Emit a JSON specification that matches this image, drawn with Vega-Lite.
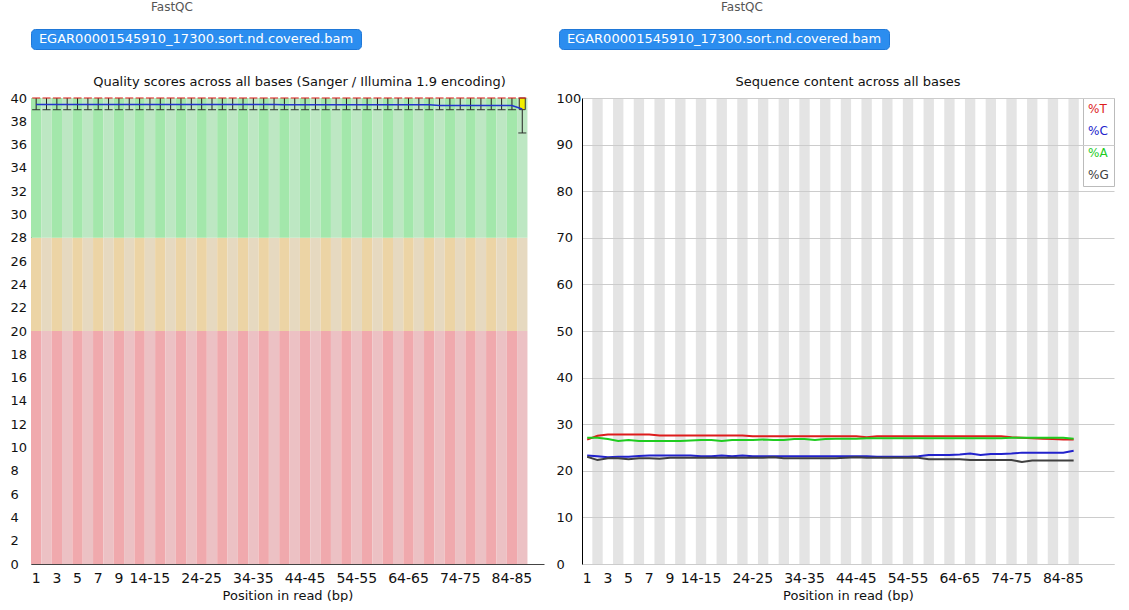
{
  "$schema": "https://vega.github.io/schema/vega-lite/v6.json",
  "background": "white",
  "padding": {"left": 10, "top": 0, "right": 0, "bottom": 0},
  "config": {
    "font": "DejaVu Sans",
    "view": {"stroke": null},
    "axis": {"labelFont": "DejaVu Sans", "titleFont": "DejaVu Sans", "labelColor": "#111111", "titleColor": "#111111", "labelFontSize": 13, "titleFontSize": 13, "titleFontWeight": "normal", "ticks": false, "grid": false, "labelOverlap": false},
    "axisX": {"labelFontSize": 14},
    "title": {"font": "DejaVu Sans", "fontSize": 13, "fontWeight": "normal", "color": "#111111"}
  },
  "datasets": {
    "quality": [
      {"pos":"1","mean":39.45,"median":40,"q1":40,"q3":40,"p10":39,"p90":40},
      {"pos":"2","mean":39.45,"median":40,"q1":40,"q3":40,"p10":39,"p90":40},
      {"pos":"3","mean":39.45,"median":40,"q1":40,"q3":40,"p10":39,"p90":40},
      {"pos":"4","mean":39.45,"median":40,"q1":40,"q3":40,"p10":39,"p90":40},
      {"pos":"5","mean":39.45,"median":40,"q1":40,"q3":40,"p10":39,"p90":40},
      {"pos":"6","mean":39.45,"median":40,"q1":40,"q3":40,"p10":39,"p90":40},
      {"pos":"7","mean":39.45,"median":40,"q1":40,"q3":40,"p10":39,"p90":40},
      {"pos":"8","mean":39.45,"median":40,"q1":40,"q3":40,"p10":39,"p90":40},
      {"pos":"9","mean":39.45,"median":40,"q1":40,"q3":40,"p10":39,"p90":40},
      {"pos":"10-11","mean":39.45,"median":40,"q1":40,"q3":40,"p10":39,"p90":40},
      {"pos":"12-13","mean":39.45,"median":40,"q1":40,"q3":40,"p10":39,"p90":40},
      {"pos":"14-15","mean":39.45,"median":40,"q1":40,"q3":40,"p10":39,"p90":40},
      {"pos":"16-17","mean":39.45,"median":40,"q1":40,"q3":40,"p10":39,"p90":40},
      {"pos":"18-19","mean":39.45,"median":40,"q1":40,"q3":40,"p10":39,"p90":40},
      {"pos":"20-21","mean":39.45,"median":40,"q1":40,"q3":40,"p10":39,"p90":40},
      {"pos":"22-23","mean":39.45,"median":40,"q1":40,"q3":40,"p10":39,"p90":40},
      {"pos":"24-25","mean":39.45,"median":40,"q1":40,"q3":40,"p10":39,"p90":40},
      {"pos":"26-27","mean":39.45,"median":40,"q1":40,"q3":40,"p10":39,"p90":40},
      {"pos":"28-29","mean":39.45,"median":40,"q1":40,"q3":40,"p10":39,"p90":40},
      {"pos":"30-31","mean":39.45,"median":40,"q1":40,"q3":40,"p10":39,"p90":40},
      {"pos":"32-33","mean":39.45,"median":40,"q1":40,"q3":40,"p10":39,"p90":40},
      {"pos":"34-35","mean":39.45,"median":40,"q1":40,"q3":40,"p10":39,"p90":40},
      {"pos":"36-37","mean":39.45,"median":40,"q1":40,"q3":40,"p10":39,"p90":40},
      {"pos":"38-39","mean":39.45,"median":40,"q1":40,"q3":40,"p10":39,"p90":40},
      {"pos":"40-41","mean":39.42,"median":40,"q1":40,"q3":40,"p10":39,"p90":40},
      {"pos":"42-43","mean":39.42,"median":40,"q1":40,"q3":40,"p10":39,"p90":40},
      {"pos":"44-45","mean":39.42,"median":40,"q1":40,"q3":40,"p10":39,"p90":40},
      {"pos":"46-47","mean":39.42,"median":40,"q1":40,"q3":40,"p10":39,"p90":40},
      {"pos":"48-49","mean":39.42,"median":40,"q1":40,"q3":40,"p10":39,"p90":40},
      {"pos":"50-51","mean":39.42,"median":40,"q1":40,"q3":40,"p10":39,"p90":40},
      {"pos":"52-53","mean":39.42,"median":40,"q1":40,"q3":40,"p10":39,"p90":40},
      {"pos":"54-55","mean":39.42,"median":40,"q1":40,"q3":40,"p10":39,"p90":40},
      {"pos":"56-57","mean":39.42,"median":40,"q1":40,"q3":40,"p10":39,"p90":40},
      {"pos":"58-59","mean":39.42,"median":40,"q1":40,"q3":40,"p10":39,"p90":40},
      {"pos":"60-61","mean":39.42,"median":40,"q1":40,"q3":40,"p10":39,"p90":40},
      {"pos":"62-63","mean":39.42,"median":40,"q1":40,"q3":40,"p10":39,"p90":40},
      {"pos":"64-65","mean":39.42,"median":40,"q1":40,"q3":40,"p10":39,"p90":40},
      {"pos":"66-67","mean":39.42,"median":40,"q1":40,"q3":40,"p10":39,"p90":40},
      {"pos":"68-69","mean":39.42,"median":40,"q1":40,"q3":40,"p10":39,"p90":40},
      {"pos":"70-71","mean":39.36,"median":40,"q1":40,"q3":40,"p10":39,"p90":40},
      {"pos":"72-73","mean":39.36,"median":40,"q1":40,"q3":40,"p10":39,"p90":40},
      {"pos":"74-75","mean":39.36,"median":40,"q1":40,"q3":40,"p10":39,"p90":40},
      {"pos":"76-77","mean":39.36,"median":40,"q1":40,"q3":40,"p10":39,"p90":40},
      {"pos":"78-79","mean":39.36,"median":40,"q1":40,"q3":40,"p10":39,"p90":40},
      {"pos":"80-81","mean":39.36,"median":40,"q1":40,"q3":40,"p10":39,"p90":40},
      {"pos":"82-83","mean":39.36,"median":40,"q1":40,"q3":40,"p10":39,"p90":40},
      {"pos":"84-85","mean":39.36,"median":40,"q1":40,"q3":40,"p10":39,"p90":40},
      {"pos":"86-87","mean":39.05,"median":40,"q1":39,"q3":40,"p10":37,"p90":40}
    ],
    "content": [
      {"pos":"1","%T":26.7,"%C":23.3,"%A":27.1,"%G":23.0},
      {"pos":"2","%T":27.5,"%C":23.1,"%A":27.1,"%G":22.3},
      {"pos":"3","%T":27.8,"%C":22.9,"%A":26.8,"%G":22.7},
      {"pos":"4","%T":27.8,"%C":23.0,"%A":26.4,"%G":22.7},
      {"pos":"5","%T":27.8,"%C":23.0,"%A":26.6,"%G":22.5},
      {"pos":"6","%T":27.8,"%C":23.2,"%A":26.4,"%G":22.7},
      {"pos":"7","%T":27.8,"%C":23.3,"%A":26.4,"%G":22.7},
      {"pos":"8","%T":27.6,"%C":23.3,"%A":26.4,"%G":22.6},
      {"pos":"9","%T":27.6,"%C":23.3,"%A":26.4,"%G":22.8},
      {"pos":"10-11","%T":27.6,"%C":23.3,"%A":26.4,"%G":22.8},
      {"pos":"12-13","%T":27.6,"%C":23.3,"%A":26.5,"%G":22.8},
      {"pos":"14-15","%T":27.6,"%C":23.1,"%A":26.6,"%G":22.8},
      {"pos":"16-17","%T":27.6,"%C":23.1,"%A":26.6,"%G":22.8},
      {"pos":"18-19","%T":27.6,"%C":23.3,"%A":26.4,"%G":22.8},
      {"pos":"20-21","%T":27.6,"%C":23.1,"%A":26.6,"%G":22.8},
      {"pos":"22-23","%T":27.6,"%C":23.3,"%A":26.6,"%G":22.8},
      {"pos":"24-25","%T":27.4,"%C":23.1,"%A":26.6,"%G":22.8},
      {"pos":"26-27","%T":27.4,"%C":23.1,"%A":26.7,"%G":22.8},
      {"pos":"28-29","%T":27.4,"%C":23.1,"%A":26.6,"%G":22.9},
      {"pos":"30-31","%T":27.4,"%C":23.1,"%A":26.6,"%G":22.7},
      {"pos":"32-33","%T":27.4,"%C":23.1,"%A":26.8,"%G":22.7},
      {"pos":"34-35","%T":27.4,"%C":23.1,"%A":26.8,"%G":22.7},
      {"pos":"36-37","%T":27.4,"%C":23.1,"%A":26.6,"%G":22.7},
      {"pos":"38-39","%T":27.4,"%C":23.1,"%A":26.8,"%G":22.7},
      {"pos":"40-41","%T":27.4,"%C":23.1,"%A":26.9,"%G":22.7},
      {"pos":"42-43","%T":27.4,"%C":23.1,"%A":26.9,"%G":22.8},
      {"pos":"44-45","%T":27.4,"%C":23.1,"%A":26.9,"%G":22.9},
      {"pos":"46-47","%T":27.2,"%C":23.1,"%A":27.0,"%G":22.8},
      {"pos":"48-49","%T":27.4,"%C":23.0,"%A":27.0,"%G":22.8},
      {"pos":"50-51","%T":27.4,"%C":23.0,"%A":27.0,"%G":22.8},
      {"pos":"52-53","%T":27.4,"%C":23.0,"%A":27.0,"%G":22.8},
      {"pos":"54-55","%T":27.4,"%C":23.0,"%A":27.0,"%G":22.8},
      {"pos":"56-57","%T":27.4,"%C":23.1,"%A":27.0,"%G":22.8},
      {"pos":"58-59","%T":27.4,"%C":23.4,"%A":27.0,"%G":22.5},
      {"pos":"60-61","%T":27.4,"%C":23.4,"%A":27.0,"%G":22.5},
      {"pos":"62-63","%T":27.4,"%C":23.4,"%A":27.0,"%G":22.5},
      {"pos":"64-65","%T":27.4,"%C":23.5,"%A":27.0,"%G":22.5},
      {"pos":"66-67","%T":27.4,"%C":23.7,"%A":27.0,"%G":22.3},
      {"pos":"68-69","%T":27.4,"%C":23.4,"%A":27.0,"%G":22.3},
      {"pos":"70-71","%T":27.4,"%C":23.6,"%A":27.0,"%G":22.3},
      {"pos":"72-73","%T":27.4,"%C":23.6,"%A":27.0,"%G":22.3},
      {"pos":"74-75","%T":27.2,"%C":23.7,"%A":27.1,"%G":22.3},
      {"pos":"76-77","%T":27.1,"%C":23.9,"%A":27.1,"%G":21.9},
      {"pos":"78-79","%T":27.0,"%C":23.9,"%A":27.1,"%G":22.2},
      {"pos":"80-81","%T":26.9,"%C":23.9,"%A":27.1,"%G":22.2},
      {"pos":"82-83","%T":26.8,"%C":23.9,"%A":27.1,"%G":22.2},
      {"pos":"84-85","%T":26.7,"%C":23.9,"%A":27.1,"%G":22.2},
      {"pos":"86-87","%T":26.7,"%C":24.3,"%A":26.9,"%G":22.2}
    ]
  },
  "resolve": {"scale": {"color": "independent", "x": "independent", "y": "independent"}, "legend": {"color": "independent"}},
  "spacing": 26,
  "vconcat": [
    {
      "spacing": 196,
      "hconcat": [
        {
          "width": 330, "height": 20,
          "title": {"text": "FastQC", "anchor": "start", "dx": 120, "fontSize": 12, "color": "#555555", "offset": 15},
          "view": {"fill": "#2b8def", "stroke": "#1f78d8", "cornerRadius": 4},
          "data": {"values": [{"file": "EGAR00001545910_17300.sort.nd.covered.bam"}]},
          "mark": {"type": "text", "color": "white", "fontSize": 13},
          "encoding": {"text": {"field": "file"}}
        },
        {
          "width": 330, "height": 20,
          "title": {"text": "FastQC", "anchor": "start", "dx": 162, "fontSize": 12, "color": "#555555", "offset": 15},
          "view": {"fill": "#2b8def", "stroke": "#1f78d8", "cornerRadius": 4},
          "data": {"values": [{"file": "EGAR00001545910_17300.sort.nd.covered.bam"}]},
          "mark": {"type": "text", "color": "white", "fontSize": 13},
          "encoding": {"text": {"field": "file"}}
        }
      ]
    },
    {
      "spacing": 12,
      "resolve": {"scale": {"color": "independent", "x": "independent", "y": "independent"}, "legend": {"color": "independent"}},
      "hconcat": [
        {
          "width": 513, "height": 466,
          "data": {"name": "quality"},
          "title": {"text": "Quality scores across all bases (Sanger / Illumina 1.9 encoding)", "offset": 3, "dx": 12},
          "encoding": {
            "x": {
              "field": "pos", "type": "ordinal", "sort": null,
              "scale": {"domain": ["1","2","3","4","5","6","7","8","9","10-11","12-13","14-15","16-17","18-19","20-21","22-23","24-25","26-27","28-29","30-31","32-33","34-35","36-37","38-39","40-41","42-43","44-45","46-47","48-49","50-51","52-53","54-55","56-57","58-59","60-61","62-63","64-65","66-67","68-69","70-71","72-73","74-75","76-77","78-79","80-81","82-83","84-85","86-87"], "paddingInner": 0, "paddingOuter": 0.8, "align": 0},
              "axis": {"values": ["1","3","5","7","9","14-15","24-25","34-35","44-45","54-55","64-65","74-75","84-85"], "labelAngle": 0, "title": "Position in read (bp)", "domainColor": "#444444", "labelPadding": 7, "titlePadding": 4}
            }
          },
          "layer": [
            {
              "transform": [{"window": [{"op": "row_number", "as": "rn"}]}],
              "mark": {"type": "rect"},
              "encoding": {
                "y": {"datum": 0, "type": "quantitative", "title": null},
                "y2": {"datum": 20},
                "fill": {"condition": {"test": "datum.rn % 2 == 1", "value": "#f0a9ad"}, "value": "#ecc1c4"}
              }
            },
            {
              "transform": [{"window": [{"op": "row_number", "as": "rn"}]}],
              "mark": {"type": "rect"},
              "encoding": {
                "y": {"datum": 20, "type": "quantitative", "title": null},
                "y2": {"datum": 28},
                "fill": {"condition": {"test": "datum.rn % 2 == 1", "value": "#ecd4a5"}, "value": "#e6d9c0"}
              }
            },
            {
              "transform": [{"window": [{"op": "row_number", "as": "rn"}]}],
              "mark": {"type": "rect"},
              "encoding": {
                "y": {"datum": 28, "type": "quantitative", "title": null},
                "y2": {"datum": 40},
                "fill": {"condition": {"test": "datum.rn % 2 == 1", "value": "#a3e7ab"}, "value": "#bde7c3"}
              }
            },
            {
              "mark": {"type": "rule", "color": "#222222", "strokeWidth": 1},
              "encoding": {"y": {"field": "p10", "type": "quantitative", "title": null}, "y2": {"field": "p90"}}
            },
            {
              "mark": {"type": "tick", "color": "#222222", "size": 8, "thickness": 1.3},
              "encoding": {"y": {"field": "p10", "type": "quantitative", "title": null}}
            },
            {
              "transform": [{"filter": "datum.q1 < datum.q3"}],
              "mark": {"type": "bar", "color": "#f2ee00", "stroke": "#333333", "strokeWidth": 1, "width": 6},
              "encoding": {"y": {"field": "q1", "type": "quantitative", "title": null}, "y2": {"field": "q3"}}
            },
            {
              "mark": {"type": "tick", "color": "#e02020", "size": 8, "thickness": 1.5},
              "encoding": {"y": {"field": "median", "type": "quantitative", "title": null}}
            },
            {
              "mark": {"type": "line", "color": "#2233cc", "strokeWidth": 1.5},
              "encoding": {"y": {"field": "mean", "type": "quantitative", "scale": {"domain": [0, 40], "nice": false, "zero": true}, "axis": {"values": [0,2,4,6,8,10,12,14,16,18,20,22,24,26,28,30,32,34,36,38,40], "tickCount": 25, "title": null, "domainColor": "#555555", "labelAlign": "left", "labelPadding": 21, "labelBound": false, "labelOverlap": false}}}
            }
          ]
        },
        {
          "width": 532, "height": 466,
          "data": {"name": "content"},
          "title": {"text": "Sequence content across all bases", "offset": 3},
          "encoding": {
            "x": {
              "field": "pos", "type": "ordinal", "sort": null,
              "scale": {"domain": ["1","2","3","4","5","6","7","8","9","10-11","12-13","14-15","16-17","18-19","20-21","22-23","24-25","26-27","28-29","30-31","32-33","34-35","36-37","38-39","40-41","42-43","44-45","46-47","48-49","50-51","52-53","54-55","56-57","58-59","60-61","62-63","64-65","66-67","68-69","70-71","72-73","74-75","76-77","78-79","80-81","82-83","84-85","86-87"," ","  "], "paddingInner": 0, "paddingOuter": 0.7, "align": 0},
              "axis": {"values": ["1","3","5","7","9","14-15","24-25","34-35","44-45","54-55","64-65","74-75","84-85"], "labelAngle": 0, "title": "Position in read (bp)", "domainColor": "#cccccc", "labelPadding": 7, "titlePadding": 4}
            }
          },
          "layer": [
            {
              "transform": [{"window": [{"op": "row_number", "as": "rn"}]}, {"filter": "datum.rn % 2 == 0"}],
              "mark": {"type": "rect", "color": "#e4e4e4"},
              "encoding": {
                "y": {"datum": 0, "type": "quantitative", "scale": {"domain": [0, 100], "nice": false}, "axis": {"values": [0,10,20,30,40,50,60,70,80,90,100], "tickCount": 15, "title": null, "grid": true, "gridColor": "#cccccc", "domainColor": "#000000", "labelAlign": "left", "labelPadding": 26, "labelBound": false, "labelOverlap": false, "zindex": 1}},
                "y2": {"datum": 100}
              }
            },
            {
              "transform": [{"fold": ["%T", "%C", "%A", "%G"], "as": ["base", "pct"]}],
              "mark": {"type": "line", "strokeWidth": 2},
              "encoding": {
                "y": {"field": "pct", "type": "quantitative", "title": null},
                "color": {
                  "field": "base", "type": "nominal",
                  "scale": {"domain": ["%T", "%C", "%A", "%G"], "range": ["#dd1c1c", "#2222cc", "#1fcc1f", "#404040"]},
                  "legend": {"orient": "top-right", "offset": 0, "title": null, "symbolType": "circle", "symbolSize": 1, "symbolOpacity": 0, "symbolStrokeWidth": 0, "labelOffset": -12, "labelFontSize": 12, "labelColor": {"expr": "datum.value == '%T' ? '#dd1c1c' : datum.value == '%C' ? '#2222cc' : datum.value == '%A' ? '#1fcc1f' : '#404040'"}, "strokeColor": "#bbbbbb", "fillColor": "#ffffff", "padding": 5, "rowPadding": 10}
                }
              }
            }
          ]
        }
      ]
    }
  ]
}
